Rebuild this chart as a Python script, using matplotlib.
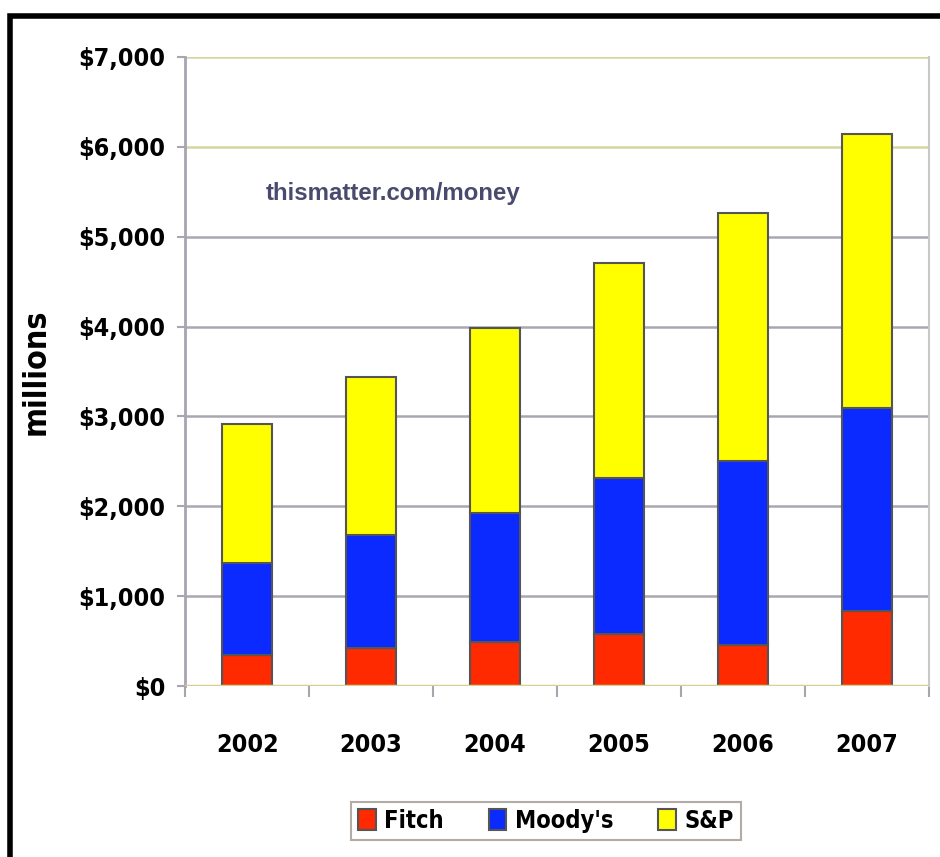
import numpy as np
import matplotlib.pyplot as plt
from matplotlib.patches import Rectangle


years = ['2002', '2003', '2004', '2005', '2006', '2007']
fitch = [345, 423, 490, 578, 456, 834]
moodys = [1025, 1257, 1435, 1736, 2047, 2258]   # stacked on fitch
sp = [1545, 1757, 2057, 2391, 2758, 3048]       # stacked on fitch + moodys
yticks = [0, 1000, 2000, 3000, 4000, 5000, 6000, 7000]

FONT = {'family': 'DejaVu Sans', 'stretch': 'condensed', 'weight': 'bold'}

fig = plt.figure(figsize=(9.4, 8.57), dpi=100)
ax = fig.add_axes([0.197, 0.1995, 0.791, 0.734])

x = np.arange(len(years))
w = 0.4
b2 = np.array(fitch)
b3 = b2 + np.array(moodys)
ax.bar(x, fitch, w, color='#ff2a00', edgecolor='#555555', lw=1.5, label='Fitch', zorder=3)
ax.bar(x, moodys, w, bottom=b2, color='#0a2aff', edgecolor='#555555', lw=1.5, label="Moody's", zorder=3)
ax.bar(x, sp, w, bottom=b3, color='#ffff00', edgecolor='#555555', lw=1.5, label='S&P', zorder=3)

# gridlines - some olive, some gray like the original
for v in yticks[1:]:
    c = '#d6d6a0' if v in (6000, 7000) else '#aaa6b2'
    ax.axhline(v, color=c, lw=1.8, zorder=1)
ax.axhline(0, color='#d8d090', lw=2.5, zorder=4)

ax.set_xlim(-0.5, 5.5)
ax.set_ylim(0, 7000)
ax.set_yticks(yticks)
ax.set_yticklabels(['${:,}'.format(v) for v in yticks], fontsize=18, **FONT)
ax.set_xticks(x)
ax.set_xticklabels(years, fontsize=18, **FONT)
ax.tick_params(axis='x', length=0, pad=34)
ax.tick_params(axis='y', length=6, color='#a8a4b0', width=1.5, pad=8)
ax.set_xticks(np.arange(-0.5, 6, 1), minor=True)
ax.tick_params(axis='x', which='minor', length=8, color='#a8a4b0', width=1.5)

for s in ['top', 'bottom']:
    ax.spines[s].set_visible(False)
ax.spines['left'].set_color('#a8a4b0')
ax.spines['left'].set_linewidth(2)
ax.spines['right'].set_color('#c8c8c8')
ax.spines['right'].set_linewidth(1.5)

ax.set_ylabel('millions', fontsize=23, **FONT)
ax.yaxis.set_label_coords(-0.18, 0.5)

ax.text(0.108, 0.772, 'thismatter.com/money', transform=ax.transAxes, fontsize=17.3,
        fontweight='bold', color='#4a4a6e', family='Liberation Sans', zorder=5)

leg = fig.legend(loc='center', bbox_to_anchor=(546 / 940, 1 - 821 / 857), ncol=3,
                 prop={'size': 17, **FONT},
                 frameon=True, fancybox=False, handlelength=0.75, handleheight=1.0,
                 handletextpad=0.36, columnspacing=1.9, borderpad=0.3)
leg.get_frame().set_edgecolor('#a09890')
leg.get_frame().set_linewidth(1.5)

# thick black frame around the chart
fig.patches.append(Rectangle((10 / 940, -0.05), 1.1, 1 - 16 / 857 + 0.05, transform=fig.transFigure,
                             fill=False, edgecolor='black', lw=4, zorder=0))

fig.savefig('out.png', dpi=100)
